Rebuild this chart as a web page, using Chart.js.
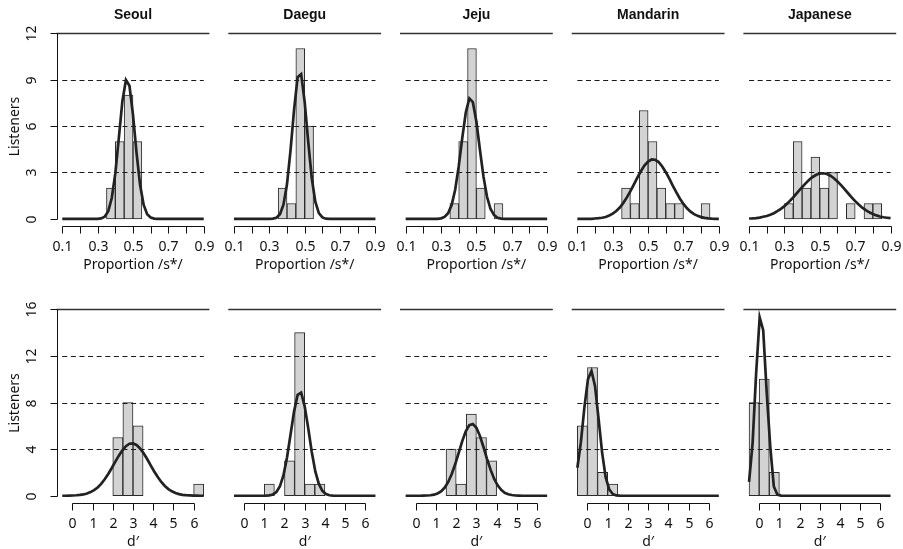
<!DOCTYPE html>
<html><head><meta charset="utf-8">
<script src="https://cdn.jsdelivr.net/npm/chart.js@4.4.0/dist/chart.umd.min.js"></script>
<style>
html,body{margin:0;padding:0;background:#fff;}
#wrap{position:relative;width:903px;height:549px;overflow:hidden;background:#fff;}
#wrap canvas{position:absolute;left:0;top:0;}
</style></head><body><div id="wrap"></div>
<script>
// ---------- data ----------
const groups = ["Seoul", "Daegu", "Jeju", "Mandarin", "Japanese"];

const propXTicks = [0.1, 0.2, 0.3, 0.4, 0.5, 0.6, 0.7, 0.8, 0.9];
const propXLabels = ["0.1", "", "0.3", "", "0.5", "", "0.7", "", "0.9"];
const propYTicks = [0, 3, 6, 9, 12];
const dXTicks = [0, 1, 2, 3, 4, 5, 6];
const dXLabels = ["0", "1", "2", "3", "4", "5", "6"];
const dYTicks = [0, 4, 8, 12, 16];
const propAxisTitle = "Proportion /s*/";
const dAxisTitle = "d\u2032";
const yAxisTitle = "Listeners";

// histogram bins (bin centres) and counts, proportion /s*/ (bin width 0.05)
const seoulPropBins = [0.375, 0.425, 0.475, 0.525];
const seoulPropCounts = [2, 5, 8, 5];
const daeguPropBins = [0.375, 0.425, 0.475, 0.525];
const daeguPropCounts = [2, 1, 11, 6];
const jejuPropBins = [0.375, 0.425, 0.475, 0.525, 0.625];
const jejuPropCounts = [1, 5, 11, 2, 1];
const mandarinPropBins = [0.375, 0.425, 0.475, 0.525, 0.575, 0.625, 0.675, 0.825];
const mandarinPropCounts = [2, 1, 7, 5, 2, 1, 1, 1];
const japanesePropBins = [0.325, 0.375, 0.425, 0.475, 0.525, 0.575, 0.675, 0.775, 0.825];
const japanesePropCounts = [1, 5, 2, 4, 2, 3, 1, 1, 1];

// histogram bins, d' (bin width 0.5)
const seoulDBins = [2.25, 2.75, 3.25, 6.25];
const seoulDCounts = [5, 8, 6, 1];
const daeguDBins = [1.25, 2.25, 2.75, 3.25, 3.75];
const daeguDCounts = [1, 3, 14, 1, 1];
const jejuDBins = [1.75, 2.25, 2.75, 3.25, 3.75];
const jejuDCounts = [4, 1, 7, 5, 3];
const mandarinDBins = [-0.25, 0.25, 0.75, 1.25];
const mandarinDCounts = [6, 11, 2, 1];
const japaneseDBins = [-0.25, 0.25, 0.75];
const japaneseDCounts = [8, 10, 2];

// fitted curves
const propCurveX = [0.10,0.12,0.14,0.16,0.18,0.20,0.22,0.24,0.26,0.28,
  0.30,0.32,0.34,0.36,0.38,0.40,0.42,0.44,0.46,0.48,
  0.50,0.52,0.54,0.56,0.58,0.60,0.62,0.64,0.66,0.68,
  0.70,0.72,0.74,0.76,0.78,0.80,0.82,0.84,0.86,0.88,0.90];
const seoulPropCurve = [0,0,0,0,0,0,0,0,0,0,
  0.01,0.04,0.15,0.50,1.35,2.94,5.24,7.60,8.97,8.60,
  6.72,4.26,2.21,0.92,0.31,0.09,0.02,0,0,0,
  0,0,0,0,0,0,0,0,0,0,0];
const daeguPropCurve = [0,0,0,0,0,0,0,0,0,0,
  0,0.02,0.08,0.30,0.92,2.25,4.45,7.06,9.15,9.35,
  7.54,4.97,2.63,1.12,0.38,0.10,0.02,0,0,0,
  0,0,0,0,0,0,0,0,0,0,0];
const jejuPropCurve = [0,0,0,0,0,0,0,0,0,0.01,
  0.04,0.13,0.37,0.90,1.89,3.39,5.22,6.87,7.78,7.54,
  6.27,4.47,2.73,1.43,0.64,0.25,0.08,0.02,0,0,
  0,0,0,0,0,0,0,0,0,0,0];
const mandarinPropCurve = [0.00,0.00,0.00,0.01,0.01,0.03,0.05,0.08,0.13,0.22,
  0.34,0.51,0.74,1.04,1.39,1.80,2.24,2.68,3.10,3.46,
  3.71,3.84,3.82,3.67,3.39,3.02,2.60,2.14,1.71,1.31,
  0.97,0.69,0.47,0.31,0.20,0.12,0.07,0.04,0.02,0.01,0.01];
const japanesePropCurve = [0.03,0.04,0.06,0.09,0.14,0.19,0.27,0.37,0.50,0.65,
  0.83,1.04,1.27,1.53,1.79,2.05,2.30,2.53,2.71,2.85,
  2.93,2.95,2.90,2.79,2.63,2.42,2.18,1.92,1.66,1.40,
  1.15,0.93,0.73,0.57,0.43,0.32,0.23,0.16,0.11,0.08,0.05];

const dCurveX = [-0.5,-0.325,-0.15,0.025,0.2,0.375,0.55,0.725,0.9,1.075,
  1.25,1.425,1.6,1.775,1.95,2.125,2.3,2.475,2.65,2.825,
  3.0,3.175,3.35,3.525,3.7,3.875,4.05,4.225,4.4,4.575,
  4.75,4.925,5.1,5.275,5.45,5.625,5.8,5.975,6.15,6.325,6.5];
const seoulDCurve = [0.00,0.00,0.01,0.02,0.04,0.07,0.11,0.19,0.31,0.48,
  0.71,1.02,1.41,1.87,2.38,2.92,3.44,3.90,4.25,4.46,
  4.49,4.36,4.06,3.65,3.15,2.61,2.08,1.60,1.18,0.84,
  0.57,0.38,0.24,0.14,0.08,0.05,0.03,0.01,0.01,0.00,0.00];
const daeguDCurve = [0,0,0,0,0,0,0,0,0,0.01,
  0.03,0.11,0.32,0.81,1.76,3.28,5.25,7.24,8.65,8.85,
  7.67,5.79,3.76,2.09,1.01,0.42,0.15,0.04,0.01,0,
  0,0,0,0,0,0,0,0,0,0,0];
const jejuDCurve = [0,0,0,0,0,0.01,0.02,0.04,0.09,0.19,
  0.37,0.68,1.16,1.84,2.70,3.69,4.69,5.53,6.06,6.16,
  5.83,5.12,4.18,3.17,2.24,1.46,0.89,0.50,0.26,0.13,
  0.06,0.02,0.01,0,0,0,0,0,0,0,0];
const mandarinDCurve = [2.40,4.60,7.60,10.00,10.70,9.40,6.60,3.70,1.60,0.55,
  0.15,0.03,0.01,0,0,0,0,0,0,0,
  0,0,0,0,0,0,0,0,0,0,
  0,0,0,0,0,0,0,0,0,0,0];
const japaneseDCurve = [1.20,4.50,10.50,15.30,14.20,8.80,4.20,0.80,0.10,0.01,
  0,0,0,0,0,0,0,0,0,0,
  0,0,0,0,0,0,0,0,0,0,
  0,0,0,0,0,0,0,0,0,0,0];

// ---------- layout ----------
const W = 903, H = 549;
const COL_LEFT = [56.6, 228.3, 400.0, 571.7, 743.4];
const COL_W = 152.8;
const ROWS = [{top: 25.6, bottom: 226.4}, {top: 301.8, bottom: 503.2}];
const TXT = '#111';
const LABEL_FONT = '14px "Noto Sans", "Open Sans", sans-serif';
const TITLE_FONT = 'bold 14px "Liberation Sans", Arial, sans-serif';

const rAxes = {
  id: 'rAxes',
  afterDatasetDraw(chart, args, o) {
    if (args.meta.type !== 'bar') return;
    const {ctx, chartArea: a, scales: {x, y}} = chart;
    ctx.save();
    const x0 = x.getPixelForValue(o.curveX[0]);
    const x1 = x.getPixelForValue(o.curveX[o.curveX.length - 1]);
    ctx.strokeStyle = '#1a1a1a';
    ctx.lineWidth = 1.1;
    ctx.setLineDash([5, 3.6]);
    o.yTicks.slice(1, -1).forEach(v => {
      const py = Math.round(y.getPixelForValue(v)) + 0.5;
      ctx.beginPath(); ctx.moveTo(x0, py); ctx.lineTo(x1, py); ctx.stroke();
    });
    ctx.setLineDash([]);
    const ty = Math.round(y.getPixelForValue(o.yTicks[o.yTicks.length - 1])) + 0.5;
    ctx.strokeStyle = '#333';
    ctx.lineWidth = 1.4;
    ctx.beginPath(); ctx.moveTo(a.left, ty); ctx.lineTo(a.right, ty); ctx.stroke();
    ctx.restore();
  },
  afterDraw(chart, args, o) {
    const {ctx, chartArea: a, scales: {x, y}} = chart;
    ctx.save();
    ctx.fillStyle = TXT;
    ctx.strokeStyle = '#111';
    ctx.lineWidth = 1;
    // title
    if (o.title) {
      ctx.font = TITLE_FONT;
      ctx.textAlign = 'center'; ctx.textBaseline = 'middle';
      ctx.fillText(o.title, (a.left + a.right) / 2, a.top - 10.5);
    }
    // x axis (R style bracket)
    const by = Math.round(a.bottom) + 0.5;
    const xs = o.xTicks.map(v => Math.round(x.getPixelForValue(v)) + 0.5);
    ctx.beginPath();
    ctx.moveTo(xs[0], by); ctx.lineTo(xs[xs.length - 1], by);
    xs.forEach(px => { ctx.moveTo(px, by); ctx.lineTo(px, by + 7); });
    ctx.stroke();
    ctx.font = LABEL_FONT;
    ctx.textAlign = 'center'; ctx.textBaseline = 'middle';
    o.xLabels.forEach((t, i) => { if (t) ctx.fillText(t, xs[i], a.bottom + 21); });
    ctx.fillText(o.xTitle, (a.left + a.right) / 2, a.bottom + 39);
    // y axis
    if (o.showY) {
      const lx = Math.round(a.left) + 0.5;
      const ys = o.yTicks.map(v => Math.round(y.getPixelForValue(v)) + 0.5);
      ctx.beginPath();
      ctx.moveTo(lx, ys[0]); ctx.lineTo(lx, ys[ys.length - 1]);
      ys.forEach(py => { ctx.moveTo(lx, py); ctx.lineTo(lx - 7, py); });
      ctx.stroke();
      o.yTicks.forEach((v, i) => {
        ctx.save();
        ctx.translate(a.left - 25, ys[i]);
        ctx.rotate(-Math.PI / 2);
        ctx.fillText(String(v), 0, 0);
        ctx.restore();
      });
      ctx.save();
      ctx.translate(15, (ys[0] + ys[ys.length - 1]) / 2);
      ctx.rotate(-Math.PI / 2);
      ctx.fillText(o.yTitle, 0, 0);
      ctx.restore();
    }
    ctx.restore();
  }
};

const panels = [
  {row: 0, col: 0, bins: seoulPropBins, counts: seoulPropCounts, cx: propCurveX, cy: seoulPropCurve},
  {row: 0, col: 1, bins: daeguPropBins, counts: daeguPropCounts, cx: propCurveX, cy: daeguPropCurve},
  {row: 0, col: 2, bins: jejuPropBins, counts: jejuPropCounts, cx: propCurveX, cy: jejuPropCurve},
  {row: 0, col: 3, bins: mandarinPropBins, counts: mandarinPropCounts, cx: propCurveX, cy: mandarinPropCurve},
  {row: 0, col: 4, bins: japanesePropBins, counts: japanesePropCounts, cx: propCurveX, cy: japanesePropCurve},
  {row: 1, col: 0, bins: seoulDBins, counts: seoulDCounts, cx: dCurveX, cy: seoulDCurve},
  {row: 1, col: 1, bins: daeguDBins, counts: daeguDCounts, cx: dCurveX, cy: daeguDCurve},
  {row: 1, col: 2, bins: jejuDBins, counts: jejuDCounts, cx: dCurveX, cy: jejuDCurve},
  {row: 1, col: 3, bins: mandarinDBins, counts: mandarinDCounts, cx: dCurveX, cy: mandarinDCurve},
  {row: 1, col: 4, bins: japaneseDBins, counts: japaneseDCounts, cx: dCurveX, cy: japaneseDCurve}
];

const wrap = document.getElementById('wrap');
panels.forEach(p => {
  const cv = document.createElement('canvas');
  cv.width = W; cv.height = H;
  cv.style.width = W + 'px'; cv.style.height = H + 'px';
  wrap.appendChild(cv);
  const isProp = p.row === 0;
  const xTicks = isProp ? propXTicks : dXTicks;
  const yTicks = isProp ? propYTicks : dYTicks;
  const cLo = p.cx[0], cHi = p.cx[p.cx.length - 1];
  const xPad = (cHi - cLo) * 0.04;
  const yMax = yTicks[yTicks.length - 1];
  const yPad = yMax * 0.04;
  const left = COL_LEFT[p.col], right = left + COL_W;
  const r = ROWS[p.row];
  new Chart(cv, {
    type: 'bar',
    data: {
      datasets: [
        {
          type: 'bar',
          data: p.bins.map((b, i) => ({x: b, y: p.counts[i]})),
          backgroundColor: '#d3d3d3',
          borderColor: '#2a2a2a',
          borderWidth: 1,
          borderSkipped: false,
          barPercentage: 1,
          categoryPercentage: 1,
          order: 2
        },
        {
          type: 'line',
          data: p.cx.map((v, i) => ({x: v, y: p.cy[i]})),
          borderColor: '#222',
          borderWidth: 2.7,
          pointRadius: 0,
          tension: 0,
          fill: false,
          order: 1
        }
      ]
    },
    options: {
      responsive: false,
      animation: false,
      devicePixelRatio: 1,
      events: [],
      layout: {padding: {left: left, right: W - right, top: r.top, bottom: H - r.bottom}},
      plugins: {
        legend: {display: false},
        tooltip: {enabled: false},
        rAxes: {
          title: isProp ? groups[p.col] : null,
          xTicks: xTicks,
          xLabels: isProp ? propXLabels : dXLabels,
          xTitle: isProp ? propAxisTitle : dAxisTitle,
          yTicks: yTicks,
          yTitle: yAxisTitle,
          showY: p.col === 0,
          curveX: p.cx
        }
      },
      scales: {
        x: {
          type: 'linear', offset: false, display: false,
          min: cLo - xPad, max: cHi + xPad,
          afterBuildTicks: s => { s.ticks = xTicks.map(v => ({value: v})); }
        },
        y: {
          type: 'linear', display: false,
          min: -yPad, max: yMax + yPad,
          afterBuildTicks: s => { s.ticks = yTicks.map(v => ({value: v})); }
        }
      }
    },
    plugins: [rAxes]
  });
});
</script>
</body></html>
